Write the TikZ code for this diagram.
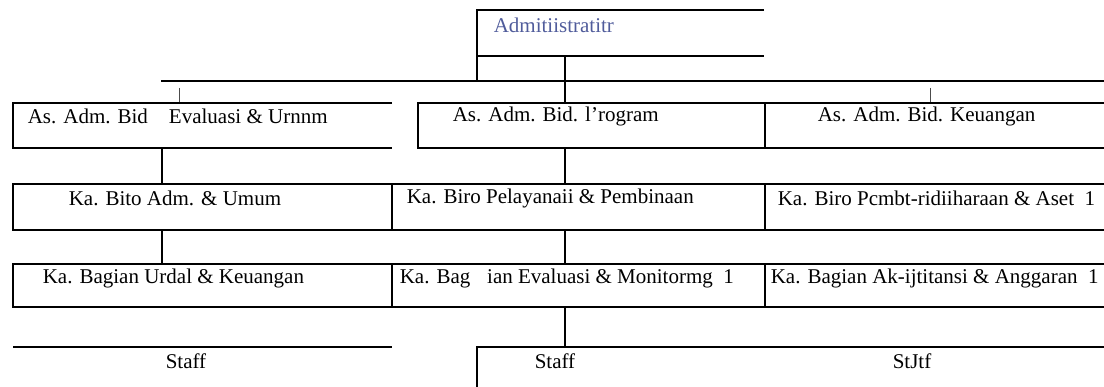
\documentclass[tikz,border=0pt]{standalone}
\usepackage{fontspec}
\setmainfont{Liberation Serif}
\definecolor{admblue}{RGB}{80,92,155}

\tikzset{lbl/.style={anchor=west,inner sep=0pt,font=\fontsize{21}{21}\selectfont},
  tick/.style={line width=0.8pt,black!70}}

\begin{document}
\begin{tikzpicture}[x=1pt,y=-1pt,line width=1.6pt]
\useasboundingbox (0,0) rectangle (1104,387);
%top box
\draw (764,10) -- (477,10) -- (477,81);
\draw (477,56) -- (764,56);
\node[lbl,text=admblue] (adm) at (493,25) {Admitiistratitr};
\coordinate (admb) at (565,56);
\coordinate (barb) at (565,103);
\draw (admb) -- (barb);
%bar
\draw (161,81) -- (1104,81);
\draw[tick] (179,88) -- (179,102);
\draw[tick] (930,88) -- (930,102);
%row 1
\draw (392,103) -- (13,103) -- (13,148) -- (392,148);
\draw (418,103) rectangle (765,148);
\draw (1104,103) -- (765,103) -- (765,148) -- (1104,148);
\node[lbl] (asev) at (27,116) {As. Adm. Bid\quad Evaluasi \& Urnnm};
\node[lbl] (aspr) at (452,116) {As. Adm. Bid. l'rogram};
\node[lbl] (askeu) at (817,116) {As. Adm. Bid. Keuangan};
%row 2
\draw (1104,184) -- (13,184) -- (13,230) -- (1104,230);
\foreach \x in {392,765}
\draw (\x,184) -- (\x,230);
\node[lbl] (biadm) at (68,198) {Ka. Bito Adm. \& Umum};
\node[lbl] (bipel) at (406,198) {Ka. Biro Pelayanaii \& Pembinaan};
\node[lbl] (bipem) at (777,198) {Ka. Biro Pcmbt-ridiiharaan \& Aset\ \ 1};
%row 3
\draw (1104,264) -- (13,264) -- (13,307) -- (1104,307);
\foreach \x in {392,765}
\draw (\x,264) -- (\x,307);
\node[lbl] (bgurd) at (42,278) {Ka. Bagian Urdal \& Keuangan};
\node[lbl] (bgev) at (399,278) {Ka. Bag\hspace{0.8em}ian Evaluasi \& Monitormg\ \ 1};
\node[lbl] (bgak) at (770,278) {Ka. Bagian Ak-ijtitansi \& Anggaran\ \ 1};
%staff
\draw (13,347) -- (392,347);
\draw (1104,347) -- (477,347) -- (477,387);
\node[lbl,anchor=center] (st1) at (186,361) {Staff};
\node[lbl,anchor=center] (st2) at (555,361) {Staff};
\node[lbl,anchor=center] (st3) at (912,361) {StJtf};
%connectors
\coordinate (l1) at (162,148); \coordinate (l2) at (162,184);
\coordinate (l3) at (162,230); \coordinate (l4) at (162,264);
\coordinate (m1) at (565,148); \coordinate (m2) at (565,184);
\coordinate (m3) at (565,230); \coordinate (m4) at (565,264);
\coordinate (m5) at (565,307); \coordinate (m6) at (565,347);
\draw (l1) -- (l2) (l3) -- (l4);
\draw (m1) -- (m2) (m3) -- (m4) (m5) -- (m6);
\end{tikzpicture}
\end{document}
